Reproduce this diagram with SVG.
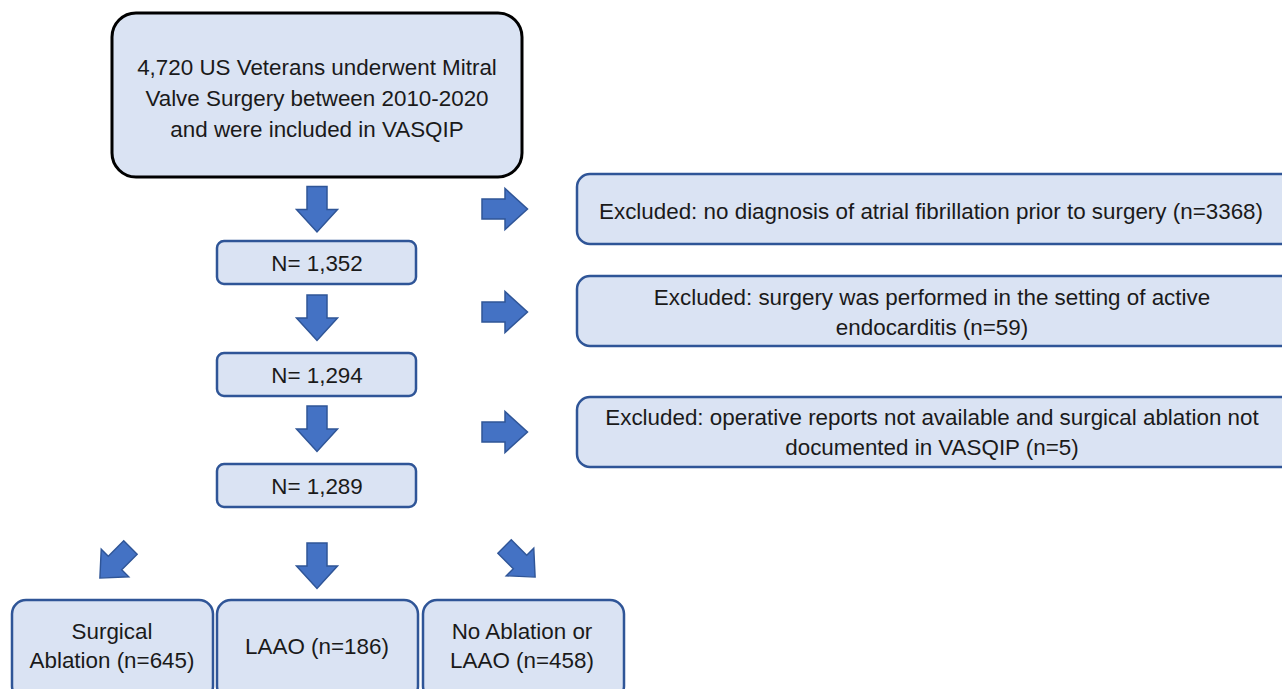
<svg xmlns="http://www.w3.org/2000/svg" width="1282" height="689" viewBox="0 0 1282 689">
<style>
.box{fill:#DAE3F3;stroke:#2F5597;stroke-width:2.5}
.top{fill:#DAE3F3;stroke:#000;stroke-width:3}
.arr{fill:#4472C4;stroke:#2F5597;stroke-width:1.5}
text{font-family:"Liberation Sans",Arial,sans-serif;font-size:22.4px;fill:#1a1a1a;text-anchor:middle}
</style>
<defs>
<path id="da" class="arr" d="M-10,-23 H10 V0 H20.5 L0,22.5 L-20.5,0 H-10 Z"/>
</defs>
<rect width="1282" height="689" fill="#fff"/>
<g id="n_top">
<rect class="top" x="112" y="13" width="410" height="164" rx="24"/>
<text x="317" y="75">4,720 US Veterans underwent Mitral</text>
<text x="317" y="106">Valve Surgery between 2010-2020</text>
<text x="317" y="137">and were included in VASQIP</text>
</g>
<g id="n_1352">
<rect class="box" x="217" y="241" width="199" height="43" rx="7"/>
<text x="317" y="271">N= 1,352</text>
</g>
<g id="n_1294">
<rect class="box" x="217" y="353" width="199" height="43" rx="7"/>
<text x="317" y="383">N= 1,294</text>
</g>
<g id="n_1289">
<rect class="box" x="217" y="464" width="199" height="43" rx="7"/>
<text x="317" y="494">N= 1,289</text>
</g>
<g id="ex1">
<rect class="box" x="577" y="174" width="720" height="70" rx="13"/>
<text x="931" y="219">Excluded: no diagnosis of atrial fibrillation prior to surgery (n=3368)</text>
</g>
<g id="ex2">
<rect class="box" x="577" y="276" width="720" height="70" rx="13"/>
<text x="932" y="305">Excluded: surgery was performed in the setting of active</text>
<text x="932" y="335">endocarditis (n=59)</text>
</g>
<g id="ex3">
<rect class="box" x="577" y="397" width="720" height="70" rx="13"/>
<text x="932" y="425">Excluded: operative reports not available and surgical ablation not</text>
<text x="932" y="455">documented in VASQIP (n=5)</text>
</g>
<g id="n_sa">
<rect class="box" x="12" y="600" width="201" height="100" rx="14"/>
<text x="112" y="639">Surgical</text>
<text x="112" y="668">Ablation (n=645)</text>
</g>
<g id="n_laao">
<rect class="box" x="217" y="600" width="201" height="100" rx="14"/>
<text x="317" y="654">LAAO (n=186)</text>
</g>
<g id="n_none">
<rect class="box" x="423" y="600" width="201" height="100" rx="14"/>
<text x="522" y="639">No Ablation or</text>
<text x="522" y="668">LAAO (n=458)</text>
</g>
<g id="connectors">
<use href="#da" transform="translate(317,209.5)"/>
<use href="#da" transform="translate(317,318)"/>
<use href="#da" transform="translate(317,429)"/>
<use href="#da" transform="translate(317,566)"/>
<use href="#da" transform="translate(505,209) rotate(-90)"/>
<use href="#da" transform="translate(505,312) rotate(-90)"/>
<use href="#da" transform="translate(505,432) rotate(-90)"/>
<use href="#da" transform="translate(115,563) rotate(45) scale(0.95)"/>
<use href="#da" transform="translate(520,562) rotate(-45) scale(0.95)"/>
</g>
</svg>
